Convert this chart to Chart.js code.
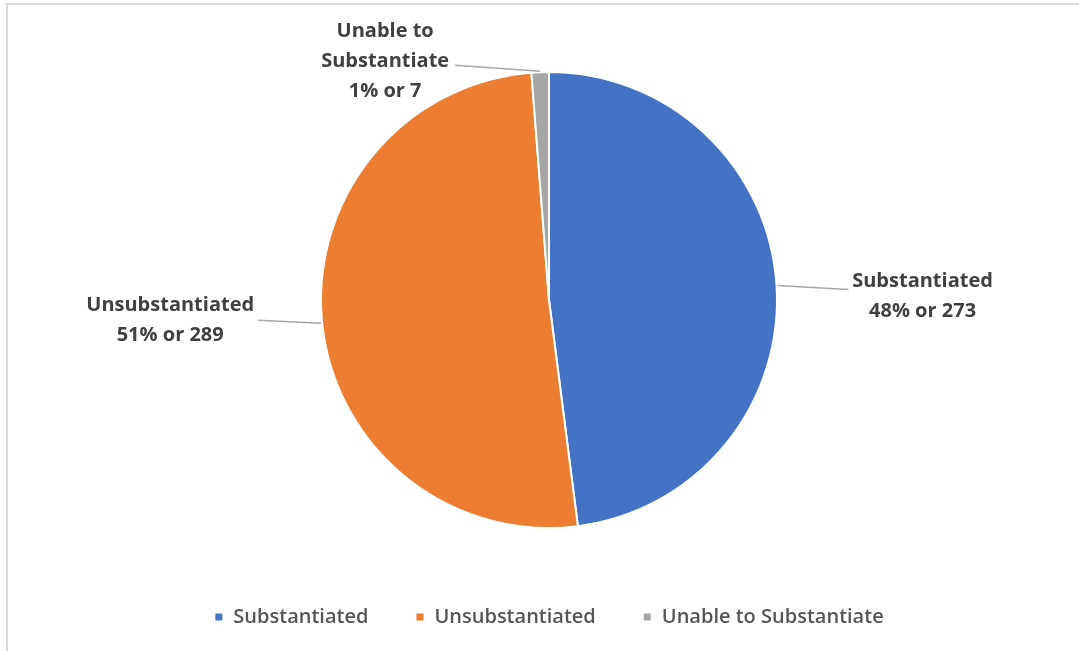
<!DOCTYPE html>
<html>
<head>
<meta charset="utf-8">
<script src="https://cdn.jsdelivr.net/npm/chart.js@4.4.1/dist/chart.umd.min.js"></script>
<style>
  html, body { margin: 0; padding: 0; background: #fff; }
  #frame { position: absolute; left: 6px; top: 3px; width: 1073px; height: 648px;
           border-top: 2px solid #d9d9d9; border-left: 2px solid #d9d9d9; }
  #wrap { position: absolute; left: 0; top: 0; width: 1079px; height: 651px; }
</style>
</head>
<body>
<div id="frame"></div>
<div id="wrap"><canvas id="pie" width="1079" height="651"></canvas></div>
<script>
"use strict";
const categories = ['Substantiated', 'Unsubstantiated', 'Unable to Substantiate'];
const counts = [273, 289, 7];
const sliceColors = ['#4472C4', '#ED7D31', '#A5A5A5'];
// category names as they wrap on the chart
const labelLines = [['Substantiated'], ['Unsubstantiated'], ['Unable to', 'Substantiate']];

// data labels with leader lines, anchored at each slice's outer midpoint
const sliceLabels = {
    id: 'sliceLabels',
    afterDatasetsDraw(chart, args, opts) {
        const ctx = chart.ctx;
        const meta = chart.getDatasetMeta(0);
        const total = counts.reduce((a, b) => a + b, 0);
        ctx.save();
        ctx.font = opts.font;
        ctx.fillStyle = opts.color;
        ctx.textAlign = 'center';
        ctx.textBaseline = 'middle';
        meta.data.forEach(function (arc, i) {
            const p = arc.getProps(['x', 'y', 'startAngle', 'endAngle', 'outerRadius']);
            const mid = (p.startAngle + p.endAngle) / 2;
            const ax = p.x + Math.cos(mid) * (p.outerRadius + 1);
            const ay = p.y + Math.sin(mid) * (p.outerRadius + 1);
            const place = opts.placement[i];

            ctx.strokeStyle = opts.lineColor;
            ctx.lineWidth = 1.5;
            ctx.beginPath();
            ctx.moveTo(ax, ay);
            ctx.lineTo(ax + place.lx, ay + place.ly);
            ctx.stroke();

            const pct = Math.round(counts[i] / total * 100);
            const lines = labelLines[i].concat([`${pct}% or ${counts[i]}`]);
            lines.forEach(function (txt, k) {
                ctx.fillText(txt, ax + place.dx, ay + place.dy + k * opts.lineHeight);
            });
        });
        ctx.restore();
    }
};

const ctx = document.getElementById('pie').getContext('2d');
const chart = new Chart(ctx, {
    type: 'pie',
    data: {
        labels: categories,
        datasets: [{
            data: counts,
            backgroundColor: sliceColors,
            borderColor: '#ffffff',
            borderWidth: 2
        }]
    },
    options: {
        responsive: false,
        animation: false,
        radius: 228,
        layout: { padding: { top: 40, left: 19, right: 0, bottom: 14 } },
        plugins: {
            tooltip: { enabled: false },
            legend: {
                position: 'bottom',
                labels: {
                    boxWidth: 9,
                    boxHeight: 9,
                    padding: 47,
                    color: '#555555',
                    font: { family: 'Open Sans', size: 20, weight: '600' }
                }
            },
            sliceLabels: {
                font: 'bold 20px "Open Sans"',
                color: '#404040',
                lineColor: '#a6a6a6',
                lineHeight: 30,
                placement: [
                    { dx: 145, dy: -4, lx: 71, ly: 4 },
                    { dx: -151, dy: -18, lx: -63, ly: -3 },
                    { dx: -155, dy: -40, lx: -85, ly: -6 }
                ]
            }
        }
    },
    plugins: [sliceLabels]
});
</script>
</body>
</html>
